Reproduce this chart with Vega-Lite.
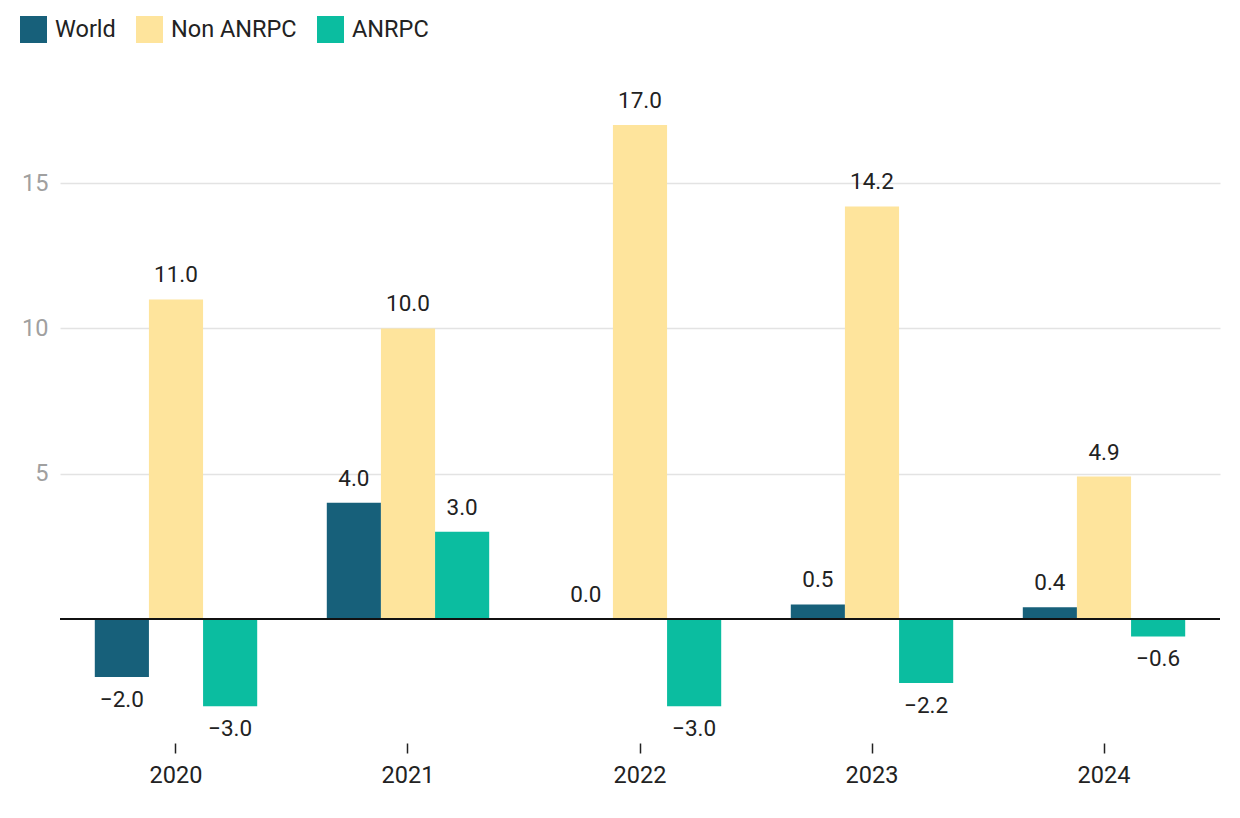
{
  "$schema": "https://vega.github.io/schema/vega-lite/v6.json",
  "autosize": "none",
  "width": 1160,
  "height": 645,
  "padding": {"left": 60, "top": 96, "right": 20, "bottom": 77},
  "background": "white",
  "config": {
    "font": "Roboto",
    "view": {"stroke": null}
  },
  "data": {
    "values": [
      {"year": "2020", "series": "World", "value": -2.0},
      {"year": "2020", "series": "Non ANRPC", "value": 11.0},
      {"year": "2020", "series": "ANRPC", "value": -3.0},
      {"year": "2021", "series": "World", "value": 4.0},
      {"year": "2021", "series": "Non ANRPC", "value": 10.0},
      {"year": "2021", "series": "ANRPC", "value": 3.0},
      {"year": "2022", "series": "World", "value": 0.0},
      {"year": "2022", "series": "Non ANRPC", "value": 17.0},
      {"year": "2022", "series": "ANRPC", "value": -3.0},
      {"year": "2023", "series": "World", "value": 0.5},
      {"year": "2023", "series": "Non ANRPC", "value": 14.2},
      {"year": "2023", "series": "ANRPC", "value": -2.2},
      {"year": "2024", "series": "World", "value": 0.4},
      {"year": "2024", "series": "Non ANRPC", "value": 4.9},
      {"year": "2024", "series": "ANRPC", "value": -0.6}
    ]
  },
  "encoding": {
    "x": {
      "field": "year", "type": "nominal",
      "scale": {"paddingInner": 0.3, "paddingOuter": 0.15},
      "axis": {
        "title": null, "labelAngle": 0, "domain": false, "ticks": true,
        "tickColor": "#222", "tickSize": 10, "tickWidth": 1.5, "offset": 2,
        "labelFontSize": 23.5, "labelColor": "#222", "labelPadding": 10
      }
    },
    "xOffset": {"field": "series", "type": "nominal", "sort": ["World", "Non ANRPC", "ANRPC"]},
    "y": {
      "field": "value", "type": "quantitative",
      "scale": {"domain": [-4.2, 18], "nice": false, "zero": false},
      "axis": {
        "title": null, "values": [5, 10, 15], "domain": false, "ticks": false,
        "grid": true, "gridColor": "#e3e3e3", "gridWidth": 1.5,
        "labelColor": "#a0a0a0", "labelFontSize": 23.5, "labelPadding": 12
      }
    }
  },
  "layer": [
    {
      "mark": {"type": "bar"},
      "encoding": {
        "color": {
          "field": "series", "type": "nominal",
          "scale": {"domain": ["World", "Non ANRPC", "ANRPC"], "range": ["#17607a", "#fee49c", "#0bbda0"]},
          "legend": {
            "title": null, "orient": "none", "direction": "horizontal",
            "legendX": -40, "legendY": -80,
            "symbolType": "square", "symbolSize": 729, "symbolStrokeWidth": 0,
            "symbolOpacity": 1, "labelFontSize": 23.5, "labelColor": "#222",
            "columnPadding": 20, "labelOffset": 8
          }
        }
      }
    },
    {
      "mark": {"type": "rule", "color": "#111", "strokeWidth": 2},
      "encoding": {"y": {"datum": 0}, "x": {}, "xOffset": {}}
    },
    {
      "transform": [{"filter": "datum.value >= 0"}],
      "mark": {"type": "text", "baseline": "bottom", "dy": -12, "fontSize": 22.5, "color": "#222"},
      "encoding": {"text": {"field": "value", "type": "quantitative", "format": ".1f"}}
    },
    {
      "transform": [{"filter": "datum.value < 0"}],
      "mark": {"type": "text", "baseline": "top", "dy": 12, "fontSize": 22.5, "color": "#222"},
      "encoding": {"text": {"field": "value", "type": "quantitative", "format": ".1f"}}
    }
  ]
}
